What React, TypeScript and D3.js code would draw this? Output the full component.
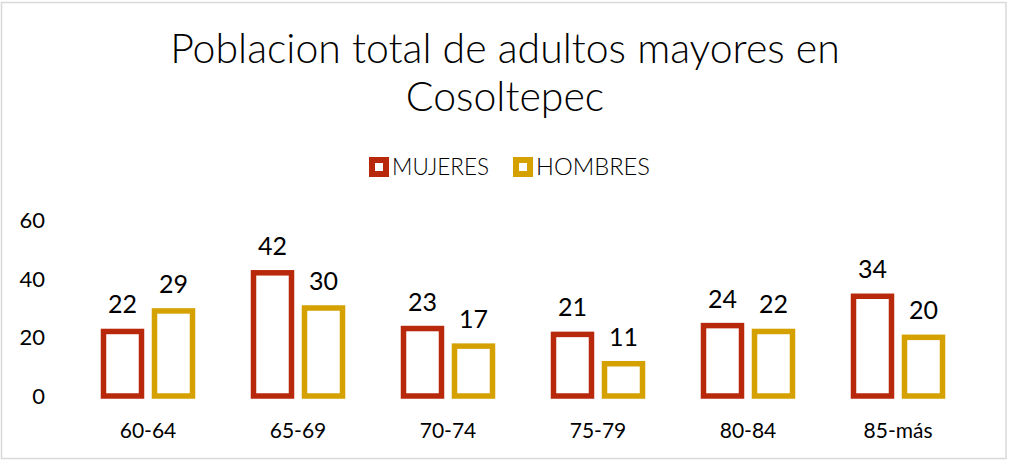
import React from "react";
import * as d3 from "d3";

const categories = ["60-64", "65-69", "70-74", "75-79", "80-84", "85-más"];
const series = ["MUJERES", "HOMBRES"];
const mujeres = [22, 42, 23, 21, 24, 34];
const hombres = [29, 30, 17, 11, 22, 20];
const yTicks = [0, 20, 40, 60];
const titleLines = ["Poblacion total de adultos mayores en", "Cosoltepec"];
const colors = ["#B8290C", "#D4A100"];

const W = 1009;
const H = 462;
const FONT = "Lato, 'Open Sans', sans-serif";

export default function App() {
  const x0 = d3.scaleBand<string>().domain(categories).range([73, 973]).padding(0);
  const x1 = d3.scaleBand<string>().domain(series).range([-44.5, 44.5]).paddingInner(0.255).paddingOuter(0);
  const y = d3.scaleLinear().domain([0, 60]).range([396, 220]);
  const values = [mujeres, hombres];

  return (
    <svg width={W} height={H} style={{ position: "absolute", left: 0, top: 0, background: "#fff" }}>
      <rect x={1.5} y={2.5} width={1004.5} height={456} fill="#fff" stroke="#d9d9d9" strokeWidth={1.5} />
      {titleLines.map((t, i) => (
        <text key={i} x={505} y={63 + i * 48} textAnchor="middle" fontFamily={FONT} fontWeight={300} fontSize={41} fill="#000">
          {t}
        </text>
      ))}
      {series.map((s, i) => {
        const lx = [369, 513][i];
        return (
          <g key={s}>
            <rect x={lx + 3} y={160} width={14} height={14} fill="#fff" stroke={colors[i]} strokeWidth={6} />
            <text x={lx + 23} y={175} fontFamily={FONT} fontWeight={300} fontSize={23} fill="#000" textLength={i === 0 ? 97 : 114} lengthAdjust="spacingAndGlyphs">{s}</text>
          </g>
        );
      })}
      {yTicks.map((t) => (
        <text key={t} x={45} y={y(t) + 8} textAnchor="end" fontFamily={FONT} fontSize={22} fill="#000">
          {t}
        </text>
      ))}
      {categories.map((c, ci) => {
        const cx = (x0(c) as number) + x0.bandwidth() / 2;
        return (
          <g key={c}>
            {series.map((s, si) => {
              const v = values[si][ci];
              const bx = cx + (x1(s) as number);
              return (
                <g key={s}>
                  <rect x={bx} y={y(v)} width={x1.bandwidth()} height={y(0) - y(v)} fill="#fff" stroke={colors[si]} strokeWidth={5.5} />
                  <text x={bx + x1.bandwidth() / 2} y={y(v) - 18} textAnchor="middle" fontFamily={FONT} fontSize={25} fill="#000">
                    {v}
                  </text>
                </g>
              );
            })}
            <text x={cx} y={438} textAnchor="middle" fontFamily={FONT} fontSize={21} fill="#000">{c}</text>
          </g>
        );
      })}
    </svg>
  );
}
